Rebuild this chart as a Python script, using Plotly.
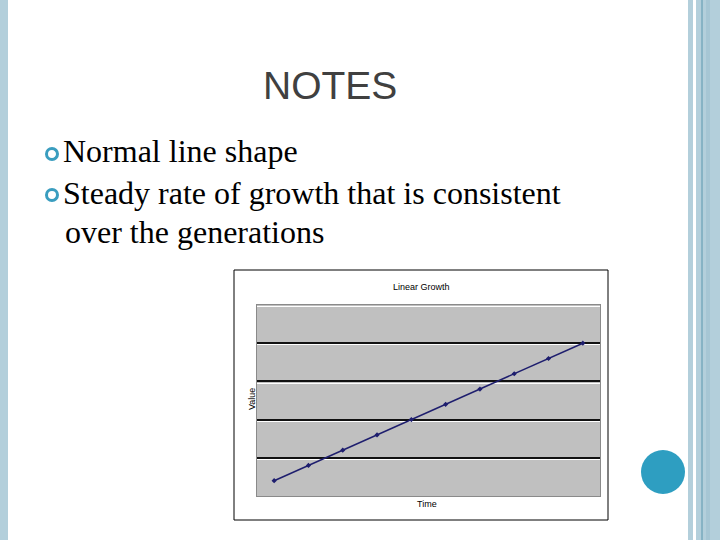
import plotly.graph_objects as go

# ---- data ----
time_points = [1, 2, 3, 4, 5, 6, 7, 8, 9, 10]
values = [0.8, 1.6, 2.4, 3.2, 4.0, 4.8, 5.6, 6.4, 7.2, 8.0]
chart_title = "Linear Growth"
x_title = "Time"
y_title = "Value"
slide_title = "NOTES"
bullets = ["Normal line shape", "Steady rate of growth that is consistent"]
bullet_cont = "over the generations"

W, H = 720, 540
def fx(x): return x / W
def fy(y): return 1 - y / H

fig = go.Figure()
# invisible helper trace so the highlight grid axis is drawn
fig.add_trace(go.Scatter(
    x=time_points, y=values, yaxis="y2", mode="lines", opacity=0,
    hoverinfo="skip", showlegend=False,
))
fig.add_trace(go.Scatter(
    x=time_points, y=values, mode="lines+markers",
    line=dict(color="#1e1e6e", width=1.5),
    marker=dict(symbol="diamond", size=4, color="#1e1e6e"),
    hoverinfo="x+y", showlegend=False,
))

fig.update_layout(
    width=W, height=H,
    margin=dict(l=0, r=0, t=0, b=0),
    paper_bgcolor="white",
    plot_bgcolor="#c0c0c0",
    xaxis=dict(domain=[fx(257), fx(600)], range=[0.5, 10.5],
               showgrid=False, zeroline=False, showticklabels=False, ticks="",
               showline=True, mirror=True, linecolor="#8a8a8a", linewidth=1),
    yaxis=dict(domain=[fy(496), fy(305)], range=[0, 10], dtick=2,
               showgrid=True, gridcolor="#111111", gridwidth=1.5,
               zeroline=False, showticklabels=False, ticks="",
               showline=True, mirror=True, linecolor="#8a8a8a", linewidth=1),
    yaxis2=dict(overlaying="y", range=[0.09, 10.09], dtick=2,
                showgrid=True, gridcolor="#ffffff", gridwidth=1.2,
                zeroline=False, showticklabels=False, ticks="", showline=False),
)

shapes = []
blue = "#b3cfdb"
shapes.append(dict(type="rect", xref="paper", yref="paper", x0=fx(0), x1=fx(8), y0=0, y1=1,
                   fillcolor=blue, line=dict(width=0)))
shapes.append(dict(type="rect", xref="paper", yref="paper", x0=fx(688), x1=fx(693), y0=0, y1=1,
                   fillcolor=blue, line=dict(width=0)))
shapes.append(dict(type="rect", xref="paper", yref="paper", x0=fx(696), x1=fx(720), y0=0, y1=1,
                   fillcolor=blue, line=dict(width=0)))
shapes.append(dict(type="rect", xref="paper", yref="paper", x0=fx(706), x1=fx(710), y0=0, y1=1,
                   fillcolor="#a6c6d4", line=dict(width=0)))
shapes.append(dict(type="line", xref="paper", yref="paper", x0=fx(702), x1=fx(702), y0=0, y1=1,
                   line=dict(color="#5b97ae", width=1)))
shapes.append(dict(type="circle", xref="paper", yref="paper", x0=fx(641), x1=fx(685),
                   y0=fy(494), y1=fy(450), fillcolor="#2e9ec1", line=dict(width=0)))
for cy in (154, 195):
    shapes.append(dict(type="circle", xref="paper", yref="paper", x0=fx(46.5), x1=fx(57.5),
                       y0=fy(cy + 5.5), y1=fy(cy - 5.5), fillcolor="rgba(0,0,0,0)",
                       line=dict(color="#3a9dbf", width=3)))
shapes.append(dict(type="rect", xref="paper", yref="paper", x0=fx(234), x1=fx(608),
                   y0=fy(520), y1=fy(270), fillcolor="rgba(0,0,0,0)",
                   line=dict(color="#000000", width=1), layer="below"))
fig.update_layout(shapes=shapes)

ann = []
ann.append(dict(text=slide_title, x=fx(330), y=fy(86), xref="paper", yref="paper",
                xanchor="center", yanchor="middle", showarrow=False,
                font=dict(family="Liberation Sans, Arial", size=39, color="#404040")))
serif = dict(family="Liberation Serif, Times New Roman", size=32, color="#000000")
ann.append(dict(text=bullets[0], x=fx(61), y=fy(151), xref="paper", yref="paper",
                xanchor="left", yanchor="middle", showarrow=False, font=serif))
ann.append(dict(text=bullets[1], x=fx(61), y=fy(193), xref="paper", yref="paper",
                xanchor="left", yanchor="middle", showarrow=False, font=serif))
ann.append(dict(text=bullet_cont, x=fx(63), y=fy(232), xref="paper", yref="paper",
                xanchor="left", yanchor="middle", showarrow=False, font=serif))
small = dict(family="Liberation Sans, Arial", size=9, color="#000000")
ann.append(dict(text=chart_title, x=fx(421), y=fy(287), xref="paper", yref="paper",
                xanchor="center", yanchor="middle", showarrow=False, font=small))
ann.append(dict(text=x_title, x=fx(427), y=fy(504), xref="paper", yref="paper",
                xanchor="center", yanchor="middle", showarrow=False, font=small))
ann.append(dict(text=y_title, x=fx(252), y=fy(399), xref="paper", yref="paper",
                xanchor="center", yanchor="middle", showarrow=False, textangle=-90, font=small))
fig.update_layout(annotations=ann)

fig.write_html("out.html", config={"displayModeBar": False},
               post_script="document.body.style.margin='0';")
